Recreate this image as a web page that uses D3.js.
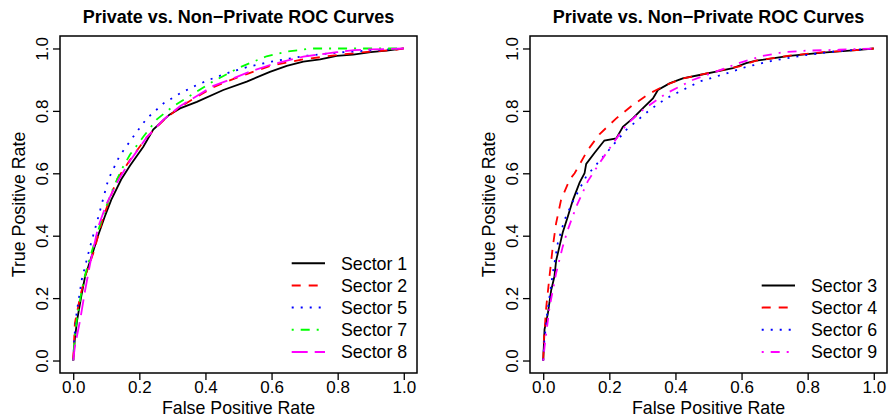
<!DOCTYPE html>
<html>
<head>
<meta charset="utf-8">
<script src="https://cdn.jsdelivr.net/npm/d3@7"></script>
<style>
  body { margin: 0; background: #fff; }
  text { font-family: "Liberation Sans", Arial, sans-serif; fill: #000; }
</style>
</head>
<body>
<svg id="chart" width="889" height="420"></svg>
<script>
// ---- data ----
const chartTitle = "Private vs. Non\u2212Private ROC Curves";
const xLabel = "False Positive Rate";
const yLabel = "True Positive Rate";
const tickValues = [0, 0.2, 0.4, 0.6, 0.8, 1.0];

const leftNames = ["Sector 1", "Sector 2", "Sector 5", "Sector 7", "Sector 8"];
const rightNames = ["Sector 3", "Sector 4", "Sector 6", "Sector 9"];

// [false positive rate, true positive rate]
const sector1 = [[0,0],[0.005,0.07],[0.012,0.13],[0.025,0.21],[0.036,0.27],[0.056,0.335],[0.075,0.40],[0.095,0.46],[0.115,0.515],[0.145,0.58],[0.172,0.625],[0.212,0.685],[0.242,0.74],[0.29,0.787],[0.323,0.808],[0.374,0.829],[0.454,0.867],[0.525,0.894],[0.595,0.925],[0.646,0.944],[0.696,0.958],[0.747,0.965],[0.797,0.976],[0.847,0.98],[0.9,0.988],[0.948,0.993],[1,1]];
const sector2 = [[0,0],[0.005,0.12],[0.021,0.205],[0.036,0.27],[0.061,0.345],[0.091,0.46],[0.132,0.58],[0.172,0.643],[0.222,0.715],[0.273,0.77],[0.323,0.812],[0.374,0.845],[0.424,0.876],[0.474,0.898],[0.525,0.918],[0.595,0.944],[0.696,0.965],[0.797,0.979],[0.898,0.99],[0.98,0.996],[1,1]];
const sector5 = [[0,0],[0.003,0.07],[0.01,0.15],[0.026,0.26],[0.051,0.365],[0.076,0.46],[0.106,0.58],[0.14,0.655],[0.18,0.715],[0.222,0.775],[0.273,0.824],[0.323,0.856],[0.374,0.883],[0.424,0.905],[0.474,0.924],[0.525,0.94],[0.6,0.958],[0.7,0.976],[0.8,0.987],[0.9,0.994],[1,1]];
const sector7 = [[0,0],[0.005,0.08],[0.012,0.14],[0.025,0.22],[0.036,0.275],[0.055,0.345],[0.075,0.415],[0.095,0.48],[0.12,0.55],[0.145,0.61],[0.172,0.66],[0.212,0.717],[0.253,0.773],[0.303,0.815],[0.374,0.862],[0.424,0.895],[0.505,0.94],[0.585,0.975],[0.646,0.99],[0.72,1],[1,1]];
const sector8 = [[0,0],[0.005,0.045],[0.021,0.13],[0.036,0.225],[0.051,0.31],[0.076,0.43],[0.1,0.5],[0.135,0.575],[0.172,0.64],[0.222,0.715],[0.273,0.772],[0.323,0.815],[0.374,0.848],[0.424,0.88],[0.474,0.9],[0.525,0.922],[0.595,0.947],[0.696,0.974],[0.797,0.988],[0.85,0.995],[0.9,0.997],[1,1]];

const sector3 = [[0,0],[0.002,0.05],[0.004,0.1],[0.014,0.15],[0.024,0.225],[0.034,0.27],[0.039,0.32],[0.049,0.365],[0.059,0.41],[0.074,0.46],[0.09,0.515],[0.11,0.57],[0.125,0.6],[0.13,0.63],[0.155,0.665],[0.185,0.705],[0.221,0.712],[0.241,0.749],[0.271,0.776],[0.301,0.808],[0.332,0.84],[0.347,0.867],[0.382,0.888],[0.422,0.904],[0.473,0.915],[0.523,0.926],[0.574,0.937],[0.614,0.953],[0.644,0.961],[0.745,0.976],[0.846,0.987],[0.947,0.995],[1,1]];
const sector4 = [[0,0],[0.002,0.066],[0.009,0.17],[0.019,0.27],[0.029,0.365],[0.039,0.44],[0.054,0.515],[0.08,0.58],[0.095,0.6],[0.135,0.675],[0.17,0.725],[0.221,0.776],[0.271,0.819],[0.322,0.856],[0.372,0.883],[0.422,0.904],[0.473,0.915],[0.523,0.927],[0.594,0.943],[0.644,0.961],[0.745,0.977],[0.846,0.988],[0.947,0.995],[1,1]];
const sector6 = [[0,0],[0.003,0.06],[0.012,0.15],[0.029,0.28],[0.044,0.376],[0.064,0.45],[0.09,0.51],[0.13,0.59],[0.19,0.664],[0.251,0.739],[0.322,0.803],[0.372,0.84],[0.422,0.867],[0.473,0.894],[0.554,0.92],[0.614,0.941],[0.695,0.961],[0.795,0.979],[0.876,0.99],[1,1]];
const sector9 = [[0,0],[0.004,0.044],[0.019,0.17],[0.039,0.28],[0.059,0.365],[0.074,0.418],[0.1,0.493],[0.135,0.575],[0.17,0.632],[0.211,0.696],[0.251,0.755],[0.301,0.803],[0.372,0.856],[0.452,0.899],[0.523,0.926],[0.594,0.954],[0.664,0.976],[0.725,0.988],[0.795,0.993],[0.896,0.996],[1,1]];

// ---- styles (R lty 1..5) ----
const ltySolid = null, ltyDashed = "9,8", ltyDotted = "2,7", ltyDotDash = "2,7,9,7", ltyLongDash = "16,7";

const panels = [
  { x0: 60, x1: 417,
    series: [sector1, sector2, sector5, sector7, sector8], names: leftNames,
    colors: ["#000000", "#ff0000", "#0000ff", "#00ff00", "#ff00ff"],
    dashes: [ltySolid, ltyDashed, ltyDotted, ltyDotDash, ltyLongDash] },
  { x0: 530, x1: 887,
    series: [sector3, sector4, sector6, sector9], names: rightNames,
    colors: ["#000000", "#ff0000", "#0000ff", "#ff00ff"],
    dashes: [ltySolid, ltyDashed, ltyDotted, ltyDotDash] }
];

const plotTop = 36, plotBottom = 373;
const svg = d3.select("#chart");

panels.forEach(function (p) {
  const g = svg.append("g");
  const x = d3.scaleLinear().domain([-0.04, 1.04]).range([p.x0, p.x1]);
  const y = d3.scaleLinear().domain([-0.04, 1.04]).range([plotBottom, plotTop]);

  // curves
  const line = d3.line().x(d => x(d[0])).y(d => y(d[1]));
  p.series.forEach(function (s, i) {
    g.append("path")
      .attr("d", line(s))
      .attr("fill", "none")
      .attr("stroke", p.colors[i])
      .attr("stroke-width", 1.8)
      .attr("stroke-dasharray", p.dashes[i]);
  });

  // box
  g.append("rect")
    .attr("x", p.x0).attr("y", plotTop)
    .attr("width", p.x1 - p.x0).attr("height", plotBottom - plotTop)
    .attr("fill", "none").attr("stroke", "#000").attr("stroke-width", 1.5);

  // axes
  const xAxis = g.append("g")
    .attr("transform", "translate(0," + plotBottom + ")")
    .call(d3.axisBottom(x).tickValues(tickValues).tickFormat(d3.format(".1f")).tickSize(7).tickSizeOuter(0));
  xAxis.select(".domain").remove();
  xAxis.selectAll("line").attr("stroke-width", 1.3);
  xAxis.selectAll("text")
    .attr("dy", null).attr("y", 19.7)
    .style("font-size", "17px").style("font-family", "'Liberation Sans', Arial, sans-serif").attr("fill", "#000");

  const yAxis = g.append("g")
    .attr("transform", "translate(" + p.x0 + ",0)")
    .call(d3.axisLeft(y).tickValues(tickValues).tickFormat(d3.format(".1f")).tickSize(7).tickSizeOuter(0));
  yAxis.select(".domain").remove();
  yAxis.selectAll("line").attr("stroke-width", 1.3);
  yAxis.selectAll("text")
    .attr("dy", null).attr("x", 0).attr("y", -11.7)
    .attr("transform", "rotate(-90)")
    .attr("text-anchor", "middle")
    .style("font-size", "17px").style("font-family", "'Liberation Sans', Arial, sans-serif").attr("fill", "#000");

  const cx = (p.x0 + p.x1) / 2, cy = (plotTop + plotBottom) / 2;

  // title and axis labels
  g.append("text")
    .attr("x", cx).attr("y", 22.7)
    .attr("text-anchor", "middle")
    .style("font-size", "18px").style("font-weight", "bold")
    .text(chartTitle);
  g.append("text")
    .attr("x", cx).attr("y", 414)
    .attr("text-anchor", "middle")
    .style("font-size", "17.8px")
    .text(xLabel);
  g.append("text")
    .attr("transform", "translate(" + (p.x0 - 35) + "," + cy + ") rotate(-90)")
    .attr("text-anchor", "middle")
    .style("font-size", "17.8px")
    .text(yLabel);

  // legend, bottom right, no box
  const n = p.names.length;
  p.names.forEach(function (name, i) {
    const ly = 352 - (n - 1 - i) * 22.2;
    g.append("line")
      .attr("x1", p.x1 - 125.3).attr("x2", p.x1 - 92)
      .attr("y1", ly).attr("y2", ly)
      .attr("stroke", p.colors[i]).attr("stroke-width", 2)
      .attr("stroke-dasharray", p.dashes[i]);
    g.append("text")
      .attr("x", p.x1 - 76).attr("y", ly).attr("dy", "0.36em")
      .style("font-size", "17.8px")
      .text(name);
  });
});
</script>
</body>
</html>
